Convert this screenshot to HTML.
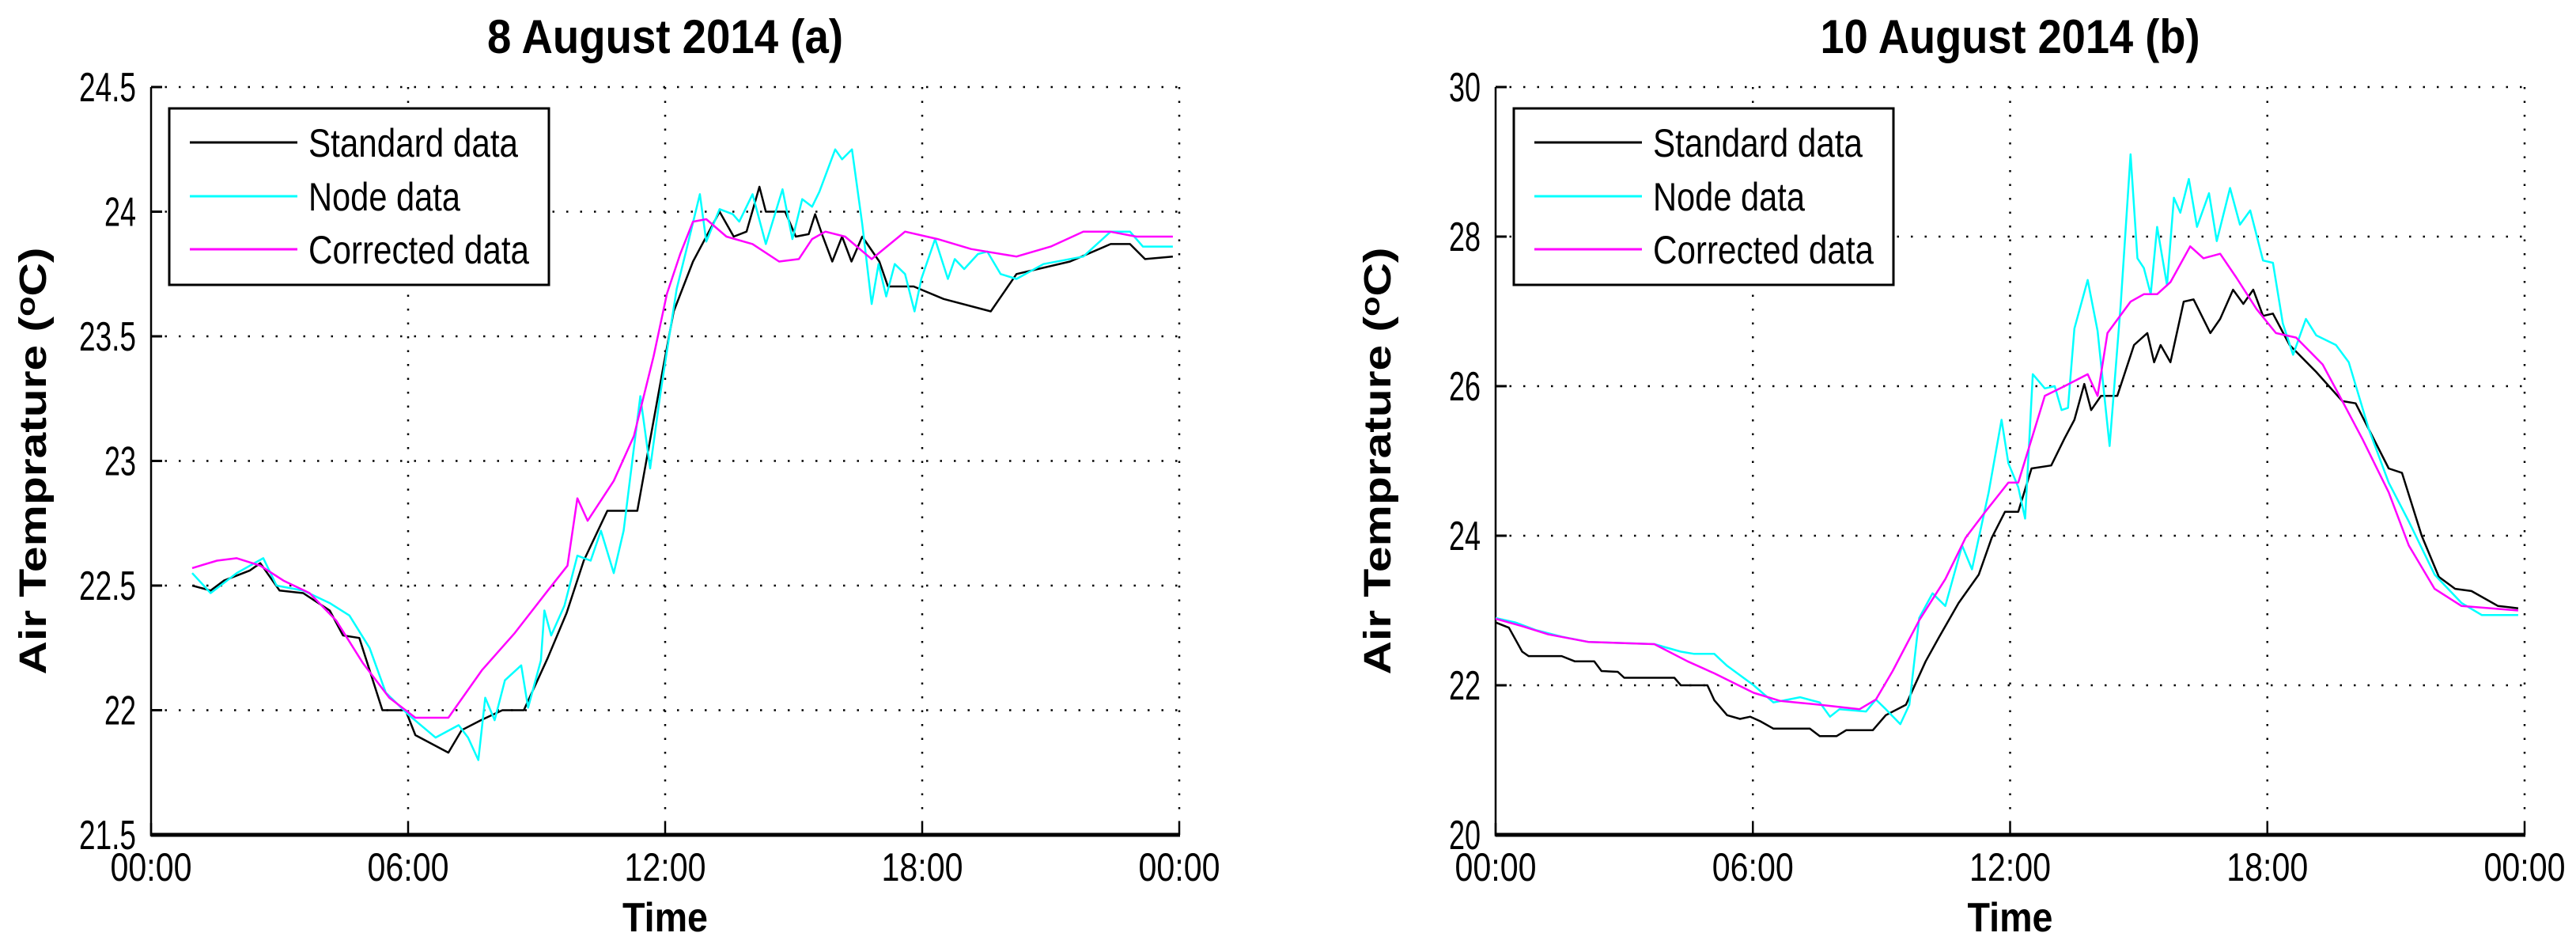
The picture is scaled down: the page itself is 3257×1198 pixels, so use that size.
<!DOCTYPE html>
<html><head><meta charset="utf-8"><style>
html,body{margin:0;padding:0;background:#fff;}
svg{display:block;font-family:"Liberation Sans",sans-serif;}
</style></head><body>
<svg id="fig" xmlns="http://www.w3.org/2000/svg" width="3257" height="1198" viewBox="0 0 3257 1198">
<rect width="3257" height="1198" fill="#fff"/>
</svg>
<script>
// ---- Data (hours, °C) ----
const xTickLabels = ["00:00","06:00","12:00","18:00","00:00"];
const xTickHours = [0,6,12,18,24];
const aYTicks = [21.5,22,22.5,23,23.5,24,24.5];
const aYTickLabels = ["21.5","22","22.5","23","23.5","24","24.5"];
const bYTicks = [20,22,24,26,28,30];
const bYTickLabels = ["20","22","24","26","28","30"];
const seriesNames = ["Standard data","Node data","Corrected data"];

const aStdH = [0.96,1.39,1.7,2.3,2.55,3.0,3.55,4.17,4.48,4.86,5.4,5.94,6.17,6.94,7.25,7.7,8.2,8.7,9.26,9.7,10.1,10.65,11.35,11.96,12.2,12.65,13.27,13.6,13.9,14.2,14.35,14.8,15.05,15.35,15.5,15.66,15.9,16.13,16.35,16.6,17.0,17.2,17.8,18.5,19.6,20.2,21.45,22.4,22.85,23.2,23.85];
const aStdV = [22.5,22.48,22.52,22.56,22.59,22.48,22.47,22.4,22.3,22.29,22.0,22.0,21.9,21.83,21.92,21.96,22.0,22.0,22.21,22.39,22.6,22.8,22.8,23.38,23.6,23.8,24.0,23.9,23.92,24.1,24.0,24.0,23.9,23.91,23.99,23.91,23.8,23.9,23.8,23.9,23.8,23.7,23.7,23.65,23.6,23.75,23.8,23.87,23.87,23.81,23.82];
const aNodeH = [0.96,1.39,2.0,2.62,2.93,3.55,4.17,4.63,5.1,5.48,6.02,6.64,7.18,7.4,7.64,7.8,8.02,8.26,8.64,8.8,9.1,9.18,9.34,9.65,9.95,10.26,10.5,10.8,11.03,11.42,11.65,11.88,12.04,12.27,12.5,12.81,12.96,13.27,13.58,13.73,14.04,14.35,14.74,14.97,15.2,15.43,15.6,15.97,16.13,16.36,16.6,16.82,16.98,17.16,17.36,17.6,17.82,17.98,18.3,18.6,18.76,18.98,19.3,19.52,19.83,20.2,20.83,21.76,22.4,22.85,23.15,23.85];
const aNodeV = [22.55,22.47,22.55,22.61,22.5,22.48,22.43,22.38,22.25,22.07,21.98,21.89,21.94,21.89,21.8,22.05,21.96,22.12,22.18,22.01,22.2,22.4,22.3,22.42,22.62,22.6,22.72,22.55,22.72,23.26,22.97,23.26,23.44,23.69,23.85,24.07,23.88,24.01,23.99,23.96,24.07,23.87,24.09,23.89,24.05,24.02,24.08,24.25,24.21,24.25,23.95,23.63,23.79,23.66,23.79,23.75,23.6,23.73,23.89,23.73,23.81,23.77,23.83,23.84,23.75,23.73,23.79,23.82,23.92,23.92,23.86,23.86];
const aCorH = [0.96,1.54,2.0,2.55,3.09,3.7,4.32,4.94,5.56,6.17,6.94,7.72,8.49,9.26,9.72,9.95,10.19,10.8,11.27,11.73,12.04,12.35,12.65,12.96,13.43,14.04,14.66,15.12,15.43,15.74,16.2,16.82,17.6,18.36,19.14,20.2,21.0,21.76,22.38,23.0,23.85];
const aCorV = [22.57,22.6,22.61,22.58,22.52,22.47,22.36,22.19,22.05,21.97,21.97,22.16,22.31,22.48,22.58,22.85,22.76,22.92,23.1,23.42,23.67,23.83,23.96,23.97,23.9,23.87,23.8,23.81,23.89,23.92,23.9,23.81,23.92,23.89,23.85,23.82,23.86,23.92,23.92,23.9,23.9];

const bStdH = [0,0.31,0.62,0.77,1.54,1.85,2.3,2.47,2.85,3.0,4.17,4.32,4.94,5.1,5.4,5.7,5.94,6.17,6.48,7.33,7.56,7.95,8.18,8.8,9.1,9.57,10.03,10.34,10.8,11.27,11.57,11.88,12.19,12.5,12.96,13.27,13.5,13.73,13.89,14.12,14.5,14.89,15.2,15.36,15.51,15.74,16.05,16.28,16.67,16.9,17.2,17.44,17.67,17.9,18.13,18.52,19.14,19.75,20.06,20.83,21.14,21.6,22.0,22.38,22.76,23.38,23.85];
const bStdV = [22.84,22.77,22.45,22.39,22.39,22.32,22.32,22.19,22.18,22.1,22.1,22.0,22.0,21.8,21.6,21.55,21.58,21.52,21.42,21.42,21.32,21.32,21.4,21.4,21.6,21.74,22.32,22.64,23.1,23.48,23.97,24.32,24.32,24.9,24.94,25.3,25.55,26.03,25.68,25.87,25.87,26.55,26.71,26.32,26.55,26.32,27.13,27.16,26.71,26.9,27.29,27.1,27.29,26.94,26.97,26.55,26.19,25.8,25.77,24.9,24.84,24.0,23.45,23.29,23.26,23.06,23.03];
const bNodeH = [0,0.46,0.93,1.54,2.16,3.7,4.32,4.63,5.1,5.4,6.02,6.48,7.1,7.56,7.8,8.02,8.64,8.87,9.1,9.44,9.65,9.88,10.19,10.49,10.88,11.11,11.5,11.8,11.96,12.19,12.35,12.53,12.81,13.04,13.2,13.35,13.5,13.81,14.04,14.32,14.58,14.81,14.97,15.12,15.28,15.43,15.66,15.82,15.97,16.17,16.36,16.64,16.82,17.13,17.36,17.6,17.9,18.13,18.36,18.6,18.9,19.14,19.6,19.9,20.37,20.83,21.3,21.9,22.53,23.0,23.85];
const bNodeV = [22.9,22.84,22.74,22.65,22.58,22.55,22.45,22.42,22.42,22.26,22.0,21.77,21.84,21.77,21.58,21.68,21.65,21.81,21.68,21.48,21.74,22.9,23.23,23.06,23.87,23.55,24.58,25.55,24.97,24.65,24.23,26.16,25.97,26.0,25.68,25.71,26.77,27.42,26.74,25.2,27.1,29.1,27.71,27.58,27.23,28.13,27.35,28.52,28.32,28.77,28.13,28.58,27.94,28.65,28.16,28.35,27.68,27.65,26.84,26.42,26.9,26.68,26.55,26.32,25.42,24.71,24.19,23.48,23.1,22.94,22.94];
const bCorH = [0,0.62,1.23,2.16,3.7,4.48,5.1,6.02,6.64,7.56,8.49,8.87,9.26,9.88,10.49,10.96,11.42,11.96,12.19,12.81,13.27,13.81,14.04,14.27,14.81,15.12,15.43,15.74,16.2,16.51,16.9,17.28,17.75,18.2,18.67,19.29,19.75,20.22,20.83,21.3,21.9,22.53,23.85];
const bCorV = [22.89,22.79,22.68,22.58,22.55,22.32,22.16,21.9,21.79,21.74,21.68,21.81,22.19,22.87,23.42,23.97,24.32,24.71,24.71,25.87,26.0,26.16,25.87,26.71,27.13,27.23,27.23,27.39,27.87,27.71,27.77,27.45,27.03,26.71,26.65,26.29,25.8,25.29,24.58,23.87,23.29,23.06,23.0];

const NS = "http://www.w3.org/2000/svg";
const svg = document.getElementById('fig');
function mk(tag, attrs, parent){
  const e = document.createElementNS(NS, tag);
  for (const k in attrs) e.setAttribute(k, attrs[k]);
  (parent||svg).appendChild(e);
  return e;
}
function txt(s, x, y, size, opts, parent){
  const e = mk('text', Object.assign({x:x, y:y, 'font-size':size, fill:'#000'}, opts||{}), parent);
  e.textContent = s;
  return e;
}
const colors = ["#000000","#00ffff","#ff00ff"];

function drawPanel(cfg){
  const g = mk('g', {});
  
  
  const L = cfg.left, R = cfg.right, T = 110, B = 1055;
  const xs = h => L + (h/24)*(R-L);
  const ys = v => B - (v - cfg.ymin)/(cfg.ymax - cfg.ymin)*(B-T);
  // grid
  const grid = mk('g', {stroke:'#000','stroke-width':2.5,'stroke-dasharray':'2.5 15'}, g);
  
  
  cfg.yTicks.forEach(v => { if (v !== cfg.ymin) mk('line',{x1:L,x2:R,y1:ys(v),y2:ys(v)},grid); });
  xTickHours.forEach(h => { if (h !== 0) mk('line',{x1:xs(h),x2:xs(h),y1:T,y2:B},grid); });
  // axes
  const ax = mk('g', {stroke:'#000'}, g);
  
  
  mk('line',{x1:L,x2:L,y1:T,y2:B+2,'stroke-width':2.5},ax);
  mk('line',{x1:L,x2:R+1,y1:B,y2:B,'stroke-width':5},ax);
  cfg.yTicks.forEach(v => mk('line',{x1:L,x2:L+14,y1:ys(v),y2:ys(v),'stroke-width':3},ax));
  xTickHours.forEach(h => mk('line',{x1:xs(h),x2:xs(h),y1:B,y2:B-15,'stroke-width':2.5},ax));
  // tick labels
  cfg.yTicks.forEach((v,i) => {
    const lab = cfg.yTickLabels[i];
    const t = txt(lab, L-19, ys(v)+18, 52, {'text-anchor':'end', textLength: lab.length*20 - (lab.indexOf('.')>=0?8:0), lengthAdjust:'spacingAndGlyphs'}, g);
    
    
  });
  xTickHours.forEach((h,i) => {
    const t = txt(xTickLabels[i], xs(h), 1113, 50, {'text-anchor':'middle', textLength:103, lengthAdjust:'spacingAndGlyphs'}, g);
    
    
  });
  // axis titles
  const xt = txt('Time', (L+R)/2, 1177, 52, {'text-anchor':'middle','font-weight':'bold', textLength:108, lengthAdjust:'spacingAndGlyphs'}, g);
  
  
  const yt = mk('text', {x:0, y:0, 'font-size':48, 'font-weight':'bold', 'text-anchor':'middle', transform:`translate(${cfg.ylabX},${(T+B)/2}) rotate(-90)`, textLength:540, lengthAdjust:'spacingAndGlyphs'}, g);
  
  
  yt.appendChild(document.createTextNode('Air Temprature ('));
  const sup = mk('tspan', {'font-size':34, dy:-14}, yt); sup.textContent = 'o';
  const rest = mk('tspan', {dy:14}, yt); rest.textContent = 'C)';
  // title
  const tt = txt(cfg.title, (L+R)/2, 67, 60, {'text-anchor':'middle','font-weight':'bold', textLength:cfg.titleLen, lengthAdjust:'spacingAndGlyphs'}, g);
  
  
  // series
  cfg.series.forEach((s,i) => {
    const pts = s.h.map((h,j) => xs(h).toFixed(1)+','+ys(s.v[j]).toFixed(1)).join(' ');
    const p = mk('polyline', {points:pts, fill:'none', stroke:colors[i], 'stroke-width':2.5, 'stroke-linejoin':'round'}, g);
    
    
  });
  // legend
  const lg = mk('g', {}, g);
  
  
  const lx = L + 23;
  mk('rect', {x:lx, y:137, width:480, height:223, fill:'#fff', stroke:'#000', 'stroke-width':3}, lg);
  const ly = [180, 248, 315], lw = [265, 192, 279];
  seriesNames.forEach((n,i) => {
    const e = mk('g', {}, lg);
    
    
    mk('line', {x1:lx+26, x2:lx+162, y1:ly[i], y2:ly[i], stroke:colors[i], 'stroke-width':3}, e);
    txt(n, lx+176, ly[i]+18, 50, {textLength:lw[i], lengthAdjust:'spacingAndGlyphs'}, e);
  });
}

drawPanel({name:'panel-a', left:191, right:1491, ymin:21.5, ymax:24.5, yTicks:aYTicks, yTickLabels:aYTickLabels, ylabX:58,
  title:'8 August 2014 (a)', titleLen:450,
  series:[{h:aStdH,v:aStdV},{h:aNodeH,v:aNodeV},{h:aCorH,v:aCorV}]});
drawPanel({name:'panel-b', left:1891, right:3192, ymin:20, ymax:30, yTicks:bYTicks, yTickLabels:bYTickLabels, ylabX:1758,
  title:'10 August 2014 (b)', titleLen:480,
  series:[{h:bStdH,v:bStdV},{h:bNodeH,v:bNodeV},{h:bCorH,v:bCorV}]});
</script>
</body></html>
